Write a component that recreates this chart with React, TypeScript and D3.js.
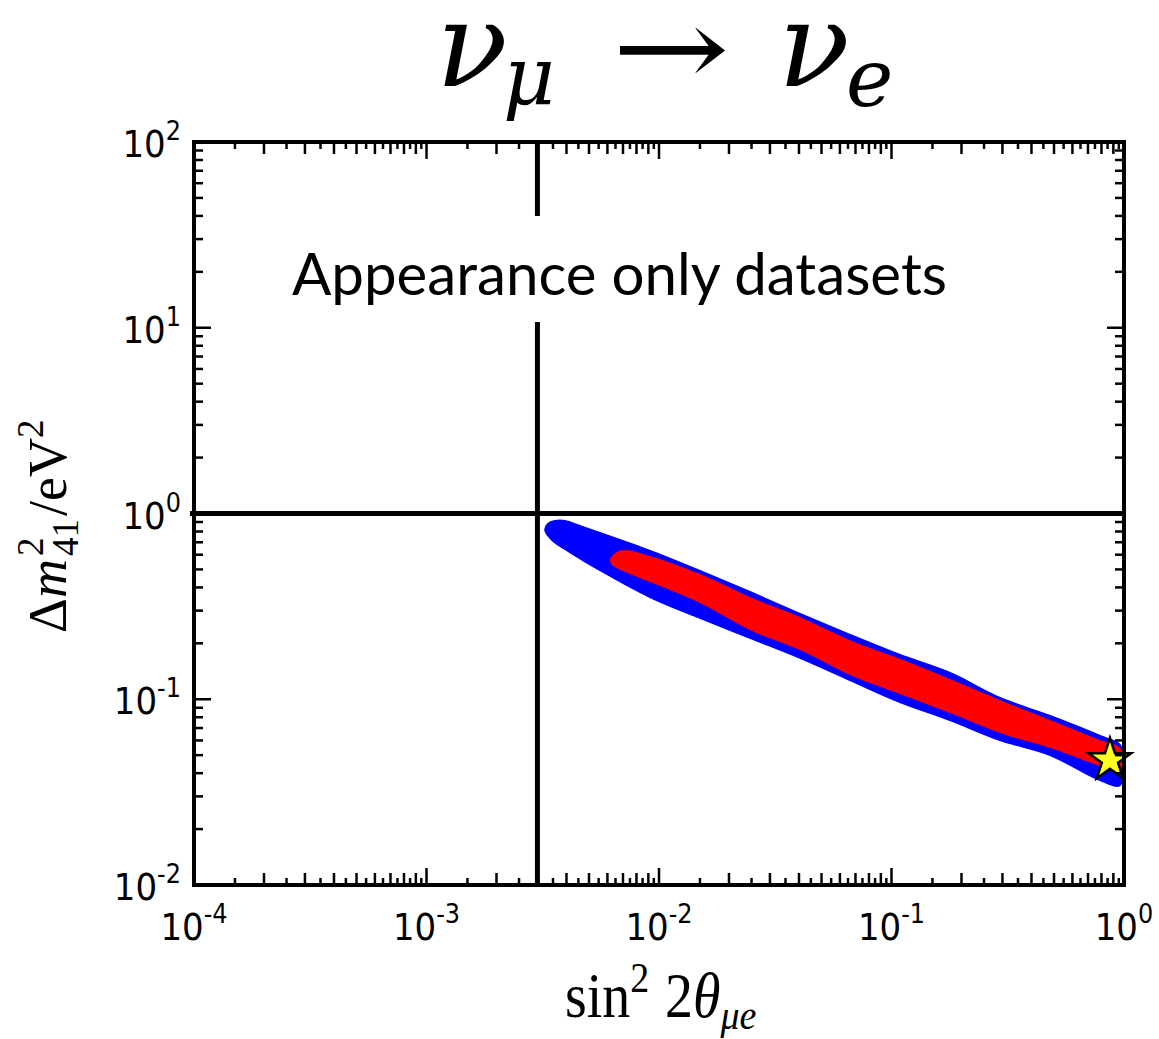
import React from "react";
import * as d3 from "d3";

const W = 1159;
const H = 1039;
const margin = { top: 142, right: 35, bottom: 154, left: 194 };

// axis ticks
const xDecades = [1e-4, 1e-3, 1e-2, 1e-1, 1];
const xExps = ["-4", "-3", "-2", "-1", "0"];
const yDecades = [1e-2, 1e-1, 1, 10, 100];
const yExps = ["-2", "-1", "0", "1", "2"];
const xMinorSteps = [1.5, 2, 2.5, 3, 3.5, 4, 4.5, 5, 5.5, 6, 6.5, 7, 7.5, 8, 8.5, 9, 9.5];
const yMinorSteps = [2, 3, 4, 5, 6, 7, 8, 9];

// cut lines
const sin2Cut = 3e-3;
const dm2Cut = 1;

// allowed region outlines (outer = blue, inner = red)
const blueSin2 = [3.24e-3, 3.33e-3, 3.57e-3, 3.94e-3, 4.57e-3, 5.57e-3, 9.15e-3, 0.015, 0.0246, 0.0404, 0.0663, 0.1088, 0.1785, 0.293, 0.481, 0.789, 0.961, 0.98, 0.961, 0.789, 0.481, 0.293, 0.1785, 0.1088, 0.0663, 0.0404, 0.0246, 0.015, 9.15e-3, 5.57e-3, 4.14e-3, 3.47e-3];
const blueDm2 = [0.815, 0.878, 0.911, 0.911, 0.856, 0.785, 0.628, 0.49, 0.378, 0.288, 0.222, 0.173, 0.1384, 0.1016, 0.0812, 0.0634, 0.0567, 0.0471, 0.0345, 0.0367, 0.0501, 0.0603, 0.0773, 0.0966, 0.1269, 0.167, 0.214, 0.274, 0.355, 0.496, 0.62, 0.72];
const redSin2 = [6.15e-3, 6.47e-3, 7.14e-3, 9.15e-3, 0.015, 0.0246, 0.0404, 0.0663, 0.1088, 0.1785, 0.293, 0.481, 0.789, 0.961, 0.98, 0.961, 0.789, 0.481, 0.293, 0.1785, 0.1088, 0.0663, 0.0404, 0.0246, 0.015, 9.15e-3, 7.14e-3, 6.28e-3];
const redDm2 = [0.562, 0.613, 0.636, 0.59, 0.472, 0.355, 0.277, 0.208, 0.165, 0.1285, 0.0991, 0.0773, 0.0603, 0.0546, 0.0471, 0.0406, 0.0437, 0.0546, 0.0658, 0.0843, 0.1067, 0.1351, 0.184, 0.236, 0.33, 0.428, 0.484, 0.528];

const bestFitSin2 = 0.87;
const bestFitDm2 = 0.047;

const App = () => {
  const x = d3.scaleLog().domain([1e-4, 1]).range([margin.left, W - margin.right]);
  const y = d3.scaleLog().domain([1e-2, 1e2]).range([H - margin.bottom, margin.top]);

  const outline = (xs: number[], ys: number[]) =>
    d3
      .line<number>()
      .x(d => x(d))
      .y((d, i) => y(ys[i]))
      .curve(d3.curveCatmullRomClosed)(xs) as string;

  const star = d3.symbol().type(d3.symbolStar).size(560)() as string;

  const x0 = x.range()[0], x1 = x.range()[1];
  const y0 = y.range()[0], y1 = y.range()[1];

  const xMinor: { v: number; long: boolean }[] = [];
  xDecades.slice(0, -1).forEach(d =>
    xMinorSteps.forEach(m => xMinor.push({ v: d * m, long: Number.isInteger(m) }))
  );
  const yMinor: number[] = [];
  yDecades.slice(0, -1).forEach(d => yMinorSteps.forEach(m => yMinor.push(d * m)));

  return (
    <svg width={W} height={H} style={{ position: "absolute", left: 0, top: 0, background: "#fff" }}>
      {/* title */}
      <text fontFamily="DejaVu Serif" fontStyle="italic" fill="#000">
        <tspan x={436} y={86} fontSize={118}>ν</tspan>
        <tspan x={503} y={104} fontSize={80}>μ</tspan>
        <tspan x={612} y={86} fontSize={110} fontStyle="normal" textLength={118} lengthAdjust="spacingAndGlyphs">→</tspan>
        <tspan x={778} y={86} fontSize={118}>ν</tspan>
        <tspan x={846} y={106} fontSize={80}>e</tspan>
      </text>

      {/* regions */}
      <path d={outline(blueSin2, blueDm2)} fill="#0000ff" stroke="#0000ff" strokeWidth={2} />
      <path d={outline(redSin2, redDm2)} fill="#ff0000" />

      {/* label box + cut lines */}
      <line x1={x0 - 4} x2={x1} y1={y(dm2Cut)} y2={y(dm2Cut)} stroke="#000" strokeWidth={5} />
      <line x1={x(sin2Cut)} x2={x(sin2Cut)} y1={y1} y2={y0} stroke="#000" strokeWidth={5} />
      <rect x={285} y={216} width={670} height={106} fill="#fff" />
      <text x={292} y={295} fontFamily="Lato" fontSize={58} textLength={655} lengthAdjust="spacingAndGlyphs" fill="#000">
        Appearance only datasets
      </text>

      <path d={star} transform={`translate(${x(bestFitSin2)},${y(bestFitDm2)})`} fill="#ffff22" stroke="#000" strokeWidth={2.5} />

      {/* ticks */}
      <g stroke="#000" strokeWidth={2.5}>
        {xMinor.map((t, i) => (
          <g key={"xm" + i}>
            <line x1={x(t.v)} x2={x(t.v)} y1={y0} y2={y0 - (t.long ? 12 : 7)} />
            <line x1={x(t.v)} x2={x(t.v)} y1={y1} y2={y1 + (t.long ? 12 : 7)} />
          </g>
        ))}
        {xDecades.map((d, i) => (
          <g key={"xM" + i}>
            <line x1={x(d)} x2={x(d)} y1={y0} y2={y0 - 17} />
            <line x1={x(d)} x2={x(d)} y1={y1} y2={y1 + 17} />
          </g>
        ))}
        {yMinor.map((v, i) => (
          <g key={"ym" + i}>
            <line x1={x0} x2={x0 + 9} y1={y(v)} y2={y(v)} />
            <line x1={x1} x2={x1 - 9} y1={y(v)} y2={y(v)} />
          </g>
        ))}
        {yDecades.map((d, i) => (
          <g key={"yM" + i}>
            <line x1={x0} x2={x0 + 17} y1={y(d)} y2={y(d)} />
            <line x1={x1} x2={x1 - 17} y1={y(d)} y2={y(d)} />
          </g>
        ))}
      </g>
      <rect x={x0} y={y1} width={x1 - x0} height={y0 - y1} fill="none" stroke="#000" strokeWidth={4} />

      {/* tick labels */}
      <g fontFamily="DejaVu Sans" fill="#000">
        {xDecades.map((d, i) => (
          <g key={"xl" + i} transform={`translate(${x(d)},940) scale(1,1.12)`}>
            <text textAnchor="middle" fontSize={34}>
              10<tspan dy={-15} fontSize={24}>{xExps[i]}</tspan>
            </text>
          </g>
        ))}
        {yDecades.map((d, i) => (
          <g key={"yl" + i} transform={`translate(181,${y(d) + 15}) scale(1,1.12)`}>
            <text textAnchor="end" fontSize={34}>
              10<tspan dy={-15} fontSize={24}>{yExps[i]}</tspan>
            </text>
          </g>
        ))}
      </g>

      {/* axis titles */}
      <g transform="translate(0,1017) scale(1,1.12)">
        <text fontFamily="Liberation Serif" fontSize={56} fill="#000">
          <tspan x={565}>sin</tspan>
          <tspan dy={-22} fontSize={38}>2</tspan>
          <tspan x={665} dy={22}>2</tspan>
          <tspan fontStyle="italic">θ</tspan>
          <tspan dy={11} fontSize={38} fontStyle="italic">μe</tspan>
        </text>
      </g>
      <g transform="translate(66,0) rotate(-90)">
        <text fontFamily="Liberation Serif" fontSize={54} fill="#000">
          <tspan x={-633} y={0}>Δ</tspan>
          <tspan x={-598} y={0} fontStyle="italic">m</tspan>
          <tspan x={-556} y={-23} fontSize={37}>2</tspan>
          <tspan x={-556} y={12} fontSize={37}>41</tspan>
          <tspan x={-516} y={0}>/eV</tspan>
          <tspan x={-438} y={-23} fontSize={37}>2</tspan>
        </text>
      </g>
    </svg>
  );
};

export default App;
